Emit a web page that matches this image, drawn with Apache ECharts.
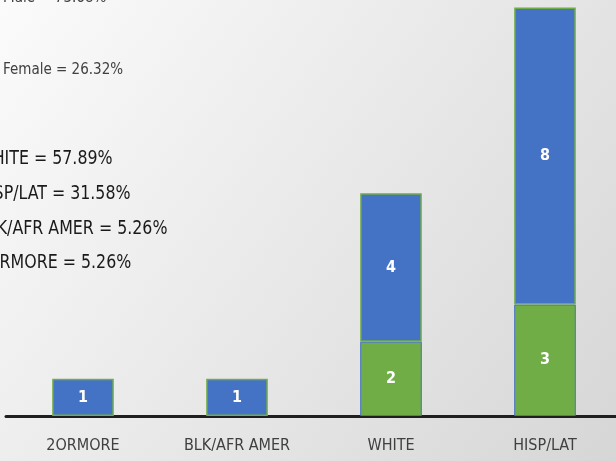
<!DOCTYPE html>
<html>
<head>
<meta charset="utf-8">
<script src="https://cdn.jsdelivr.net/npm/echarts@6/dist/echarts.min.js"></script>
<style>
  html, body { margin: 0; padding: 0; overflow: hidden; }
  #main { width: 622px; height: 461px; }
</style>
</head>
<body>
<div id="main"></div>
<script>
var categories = ['2ORMORE', 'BLK/AFR AMER', 'WHITE', 'HISP/LAT'];
var female = [0, 0, 2, 3];
var male = [1, 1, 4, 8];
var genderNotes = ['Male = 73.68%', 'Female = 26.32%'];
var raceNotes = ['WHITE = 57.89%', 'HISP/LAT = 31.58%', 'BLK/AFR AMER = 5.26%', '2ORMORE = 5.26%'];

var narrow = '"DejaVu Sans Condensed", "Liberation Sans Narrow", sans-serif';

var myChart = echarts.init(document.getElementById('main'));

function noZero(arr) {
	return arr.map(function(v) { return v === 0 ? null : v; });
}

var labelStyle = {
	show: true,
	position: 'inside',
	color: '#ffffff',
	fontSize: 16,
	fontWeight: 'bold',
	fontFamily: narrow
};

var graphics = [];
graphics.push({
	type: 'text', x: 3, y: -9,
	style: { text: genderNotes[0], fill: '#404040', font: '15px ' + narrow }
});
graphics.push({
	type: 'text', x: 3, y: 63,
	style: { text: genderNotes[1], fill: '#404040', font: '15px ' + narrow }
});
for (var i = 0; i < raceNotes.length; i++) {
	graphics.push({
		type: 'text', x: -23, y: 149 + i * 34.7, scaleX: 0.88,
		style: { text: raceNotes[i], fill: '#1a1a1a', font: '20px ' + narrow }
	});
}

myChart.setOption({
	backgroundColor: {
		type: 'linear', x: 0, y: 0, x2: 1, y2: 1,
		colorStops: [
			{ offset: 0, color: '#fbfbfb' },
			{ offset: 1, color: '#d6d6d6' }
		]
	},
	animation: false,
	grid: { left: 6, right: 0, top: 0, bottom: 45 },
	xAxis: {
		type: 'category',
		data: categories,
		axisLine: { lineStyle: { color: '#1f1f1f', width: 3 } },
		axisTick: { show: false },
		axisLabel: {
			color: '#404040',
			fontSize: 16,
			margin: 22,
			fontFamily: narrow
		}
	},
	yAxis: {
		type: 'value',
		min: 0,
		max: 11.2,
		show: false,
		splitLine: { show: false }
	},
	graphic: graphics,
	series: [
		{
			name: 'Female',
			type: 'bar',
			stack: 'total',
			barWidth: '40%',
			data: noZero(female),
			itemStyle: { color: '#70ad47', borderColor: '#4472c4', borderWidth: 1 },
			label: labelStyle
		},
		{
			name: 'Male',
			type: 'bar',
			stack: 'total',
			barWidth: '40%',
			data: noZero(male),
			itemStyle: { color: '#4472c4', borderColor: '#70ad47', borderWidth: 1.5 },
			label: labelStyle
		}
	]
});
</script>
</body>
</html>
